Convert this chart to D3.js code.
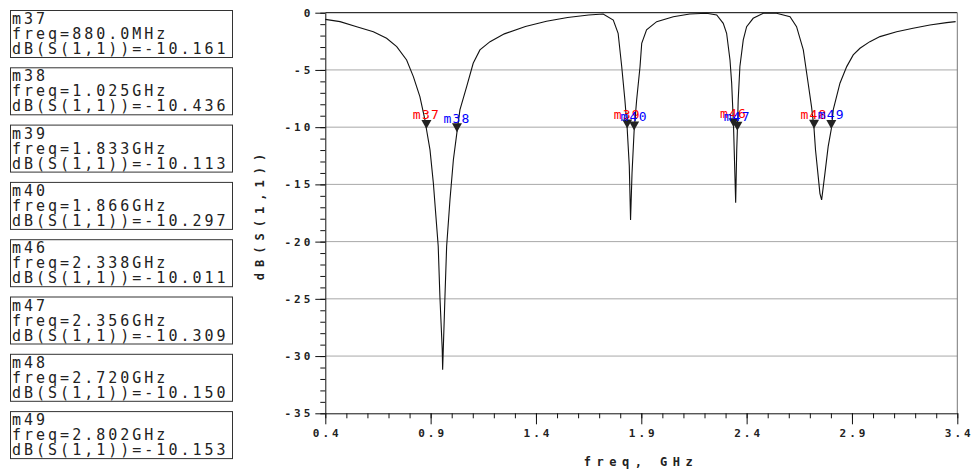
<!DOCTYPE html>
<html><head><meta charset="utf-8">
<script src="https://cdn.jsdelivr.net/npm/d3@7"></script>
<style>body{margin:0;background:#fff} svg{display:block}</style>
</head><body>
<script>
// ---- data ----
const freq = [0.400,0.470,0.549,0.628,0.691,0.739,0.786,0.818,0.849,0.873,0.880,0.897,0.913,0.936,0.944,0.955,0.957,0.968,0.976,0.992,1.008,1.025,1.039,1.071,1.102,1.134,1.182,1.25,1.35,1.45,1.55,1.65,1.719,1.767,1.790,1.807,1.822,1.833,1.843,1.849,1.856,1.866,1.878,1.894,1.902,1.925,1.973,2.052,2.130,2.210,2.258,2.289,2.305,2.321,2.329,2.338,2.341,2.348,2.353,2.356,2.360,2.368,2.384,2.400,2.431,2.479,2.542,2.606,2.637,2.669,2.692,2.708,2.720,2.727,2.748,2.756,2.772,2.787,2.802,2.811,2.843,2.875,2.906,2.938,2.985,3.033,3.112,3.190,3.270,3.349,3.392];
const dbS11 = [-0.58,-0.78,-1.22,-1.66,-2.24,-2.96,-4.13,-5.58,-7.33,-9.36,-10.161,-11.98,-14.9,-20.4,-24.8,-29.4,-31.2,-24.8,-20.4,-16.3,-12.85,-10.436,-8.49,-6.46,-4.42,-3.25,-2.53,-1.85,-1.2,-0.75,-0.42,-0.2,-0.11,-0.64,-1.8,-4.7,-7.6,-10.113,-13.4,-18.1,-14.0,-10.297,-7.6,-4.7,-2.67,-1.5,-0.78,-0.35,-0.11,-0.05,-0.2,-0.93,-1.8,-4.13,-6.16,-10.011,-12.0,-16.6,-12.0,-10.309,-7.6,-4.7,-2.38,-1.22,-0.49,-0.05,-0.05,-0.35,-1.22,-3.25,-6.16,-8.2,-10.150,-12.0,-15.8,-16.35,-14.0,-11.7,-10.153,-8.49,-6.16,-4.71,-3.69,-3.11,-2.53,-2.09,-1.66,-1.36,-1.07,-0.87,-0.78];
const markerNames = ["m37","m38","m39","m40","m46","m47","m48","m49"];
const markerFreq = [0.880,1.025,1.833,1.866,2.338,2.356,2.720,2.802];
const markerFreqText = ["880.0MHz","1.025GHz","1.833GHz","1.866GHz","2.338GHz","2.356GHz","2.720GHz","2.802GHz"];
const markerDb = [-10.161,-10.436,-10.113,-10.297,-10.011,-10.309,-10.150,-10.153];
const xTicks = [0.4,0.9,1.4,1.9,2.4,2.9,3.4];
const yTicks = [0,-5,-10,-15,-20,-25,-30,-35];
const xLabel = "freq, GHz";
const yLabel = "dB(S(1,1))";

// ---- drawing ----
const W = 973, H = 469;
const svg = d3.select("body").append("svg").attr("width", W).attr("height", H);
const x = d3.scaleLinear().domain([0.4, 3.4]).range([325.3, 957.3]);
const y = d3.scaleLinear().domain([0, -35]).range([12.7, 413.3]);
const mono = "'DejaVu Sans Mono', 'Liberation Mono', monospace";

// grid
svg.append("g").selectAll("line").data(yTicks.filter(d => d < 0 && d > -35)).join("line")
  .attr("x1", x(0.4)).attr("x2", x(3.4)).attr("y1", d => y(d)).attr("y2", d => y(d))
  .attr("stroke", "#a8a8a8").attr("stroke-width", 1);
// frame top & right
svg.append("line").attr("x1", x(0.4)).attr("x2", x(3.4)).attr("y1", y(0)).attr("y2", y(0)).attr("stroke", "#000");
svg.append("line").attr("x1", x(3.4)).attr("x2", x(3.4)).attr("y1", y(0)).attr("y2", y(-35)).attr("stroke", "#777");

// y axis minor
const yMinor = d3.range(0, -36, -1);
svg.append("g").attr("transform", `translate(${x(0.4)},0)`)
  .call(d3.axisLeft(y).tickValues(yMinor).tickSize(5).tickFormat(""))
  .call(g => g.select(".domain").remove());
// y axis major
const gy = svg.append("g").attr("transform", `translate(${x(0.4)},0)`)
  .call(d3.axisLeft(y).tickValues(yTicks).tickSize(10).tickSizeOuter(0).tickFormat(d => String(d)));
gy.selectAll("text").attr("font-family", mono).attr("font-size", 11).attr("font-weight", "bold")
  .attr("letter-spacing", 3).attr("dx", 1).attr("fill", "#222");

// x axis minor
const xMinor = d3.range(4, 35).map(v => v / 10);
svg.append("g").attr("transform", `translate(0,${y(-35)})`)
  .call(d3.axisBottom(x).tickValues(xMinor).tickSize(5).tickFormat(""))
  .call(g => g.select(".domain").remove());
const gx = svg.append("g").attr("transform", `translate(0,${y(-35)})`)
  .call(d3.axisBottom(x).tickValues(xTicks).tickSize(11).tickSizeOuter(0).tickFormat(d => d.toFixed(1)));
gx.selectAll("text").attr("font-family", mono).attr("font-size", 11).attr("font-weight", "bold")
  .attr("letter-spacing", 3).attr("dx", 1.5).attr("dy", "0.9em").attr("fill", "#222");
svg.selectAll(".tick line").attr("stroke", "#111");
svg.selectAll(".domain").attr("stroke", "#111");

// axis titles
svg.append("text").attr("x", 641).attr("y", 466).attr("text-anchor", "middle")
  .attr("font-family", mono).attr("font-size", 12).attr("font-weight", "bold")
  .attr("letter-spacing", 5.5).attr("fill", "#222").text(xLabel);
svg.append("text").attr("transform", "translate(264,214) rotate(-90)").attr("text-anchor", "middle")
  .attr("font-family", mono).attr("font-size", 12).attr("font-weight", "bold")
  .attr("letter-spacing", 6).attr("fill", "#222").text(yLabel);

// curve
const line = d3.line().x((d, i) => x(freq[i])).y((d, i) => y(dbS11[i]));
svg.append("path").datum(dbS11).attr("d", line).attr("fill", "none").attr("stroke", "#111").attr("stroke-width", 1.1);

// markers
const mk = svg.append("g");
markerNames.forEach((name, i) => {
  const mx = x(markerFreq[i]), my = y(markerDb[i]);
  mk.append("path").attr("d", `M${mx - 5},${my - 9}L${mx + 5},${my - 9}L${mx},${my}Z`).attr("fill", "#222");
  mk.append("text").attr("x", mx).attr("y", my - 9.5).attr("text-anchor", "middle")
    .attr("font-family", mono).attr("font-size", 13).attr("letter-spacing", 1.2)
    .attr("fill", i % 2 === 0 ? "#ff0000" : "#0000ff").text(name);
});

// legend boxes
const lg = svg.append("g");
markerNames.forEach((name, i) => {
  const top = 10 + i * 57.3;
  lg.append("rect").attr("x", 10.5).attr("y", top + 0.5).attr("width", 222).attr("height", 47)
    .attr("fill", "#fff").attr("stroke", "#333").attr("stroke-width", 1);
  const lines = [name, "freq=" + markerFreqText[i], "dB(S(1,1))=" + markerDb[i].toFixed(3)];
  lines.forEach((t, k) => {
    lg.append("text").attr("x", 12).attr("y", top + 14 + k * 15)
      .attr("font-family", mono).attr("font-size", 15).attr("letter-spacing", 3)
      .attr("fill", "#222").text(t);
  });
});
</script>
</body></html>
